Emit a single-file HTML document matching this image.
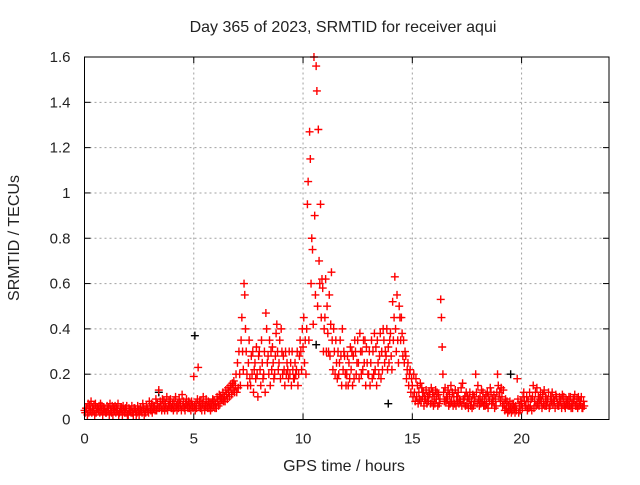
<!DOCTYPE html>
<html><head><meta charset="utf-8"><style>
body{margin:0;background:#fff}
svg text{font-family:"Liberation Sans",sans-serif;font-size:15px;fill:#222}
svg text.big{font-size:16px}
</style></head><body>
<svg id="chart" width="640" height="480" xmlns="http://www.w3.org/2000/svg">
<text class="big" x="343" y="32" text-anchor="middle">Day 365 of 2023, SRMTID for receiver aqui</text>
<text class="big" x="344" y="471" text-anchor="middle">GPS time / hours</text>
<text class="big" x="0" y="0" text-anchor="middle" transform="translate(19,238) rotate(-90)">SRMTID / TECUs</text>
<g id="grid"></g><g id="marks"></g><g id="axes"></g>
</svg>
<script>
const xTicks=[0,5,10,15,20];
const yTicks=[0,0.2,0.4,0.6,0.8,1,1.2,1.4,1.6];
const yTickLabels=["0","0.2","0.4","0.6","0.8","1","1.2","1.4","1.6"];
const binStart=0, binStep=0.1;
const redBins=[
[.04,.03,.05],[.05,.02,.07],[.03,.06,.04],[.08,.03,.05],[.04,.06,.02],[.07,.03,.05],[.05,.04,.06],[.03,.07,.04],[.06,.02,.05],[.04,.05,.03],
[.03,.06,.04],[.05,.02,.07],[.04,.03,.06],[.02,.05,.04],[.06,.03,.05],[.04,.07,.02],[.03,.05,.04],[.05,.02,.06],[.04,.03,.05],[.03,.06,.02],
[.02,.05,.04],[.04,.03,.06],[.03,.02,.05],[.05,.04,.02],[.03,.06,.04],[.02,.04,.05],[.04,.03,.07],[.05,.02,.04],[.03,.06,.05],[.04,.03,.08],
[.05,.04,.07],[.03,.06,.05],[.06,.04,.09],[.04,.07,.05],[.13,.05,.08],[.06,.04,.09],[.05,.08,.04],[.07,.05,.1],[.04,.06,.08],[.06,.09,.05],
[.05,.07,.04],[.08,.05,.1],[.06,.04,.07],[.05,.09,.06],[.07,.04,.11],[.06,.08,.05],[.04,.07,.09],[.06,.05,.08],[.05,.07,.04],[.08,.06,.05],
[.19,.06,.04],[.07,.05,.09],[.23,.06,.08],[.05,.08,.04],[.07,.1,.06],[.04,.06,.09],[.06,.05,.08],[.05,.07,.04],[.07,.05,.09],[.06,.08,.05],
[.07,.05,.1],[.08,.06,.11],[.07,.1,.09],[.09,.12,.08],[.1,.08,.13],[.11,.09,.14],[.12,.1,.15],[.14,.11,.16],[.13,.17,.12],[.15,.2,.12],
[.25,.14,.3],[.2,.15,.35],[.45,.3,.22],[.6,.55,.4],[.3,.2,.15],[.25,.35,.18],[.15,.28,.2],[.3,.12,.22],[.25,.18,.32],[.2,.1,.28],
[.3,.22,.15],[.35,.25,.18],[.2,.3,.12],[.47,.4,.25],[.28,.2,.35],[.15,.3,.22],[.32,.25,.18],[.2,.28,.38],[.42,.3,.22],[.25,.35,.18],
[.4,.3,.2],[.28,.22,.15],[.3,.2,.25],[.22,.18,.3],[.2,.25,.15],[.3,.22,.18],[.18,.25,.2],[.22,.3,.15],[.2,.28,.35],[.3,.22,.4],
[.32,.45,.25],[.35,.2,.4],[.95,1.05,.35],[1.27,1.15,.6],[.8,.75,.42],[1.6,.9,.55],[1.56,1.45,.5],[1.28,.7,.6],[.95,.45,.62],[.58,.3,.4],
[.45,.62,.3],[.5,.38,.3],[.55,.28,.42],[.65,.35,.22],[.4,.3,.2],[.35,.25,.18],[.3,.2,.25],[.35,.28,.15],[.4,.22,.3],[.28,.2,.15],
[.2,.28,.15],[.25,.18,.32],[.22,.3,.15],[.28,.18,.35],[.3,.2,.25],[.35,.25,.18],[.38,.3,.2],[.3,.22,.35],[.25,.35,.15],[.32,.25,.2],
[.2,.3,.15],[.25,.35,.18],[.3,.2,.38],[.22,.32,.15],[.35,.25,.2],[.28,.38,.18],[.3,.22,.4],[.35,.25,.3],[.28,.4,.22],[.32,.25,.35],
[.38,.28,.22],[.52,.35,.45],[.63,.4,.3],[.55,.35,.25],[.5,.45,.35],[.45,.38,.28],[.35,.25,.3],[.28,.18,.22],[.25,.15,.2],[.22,.12,.18],
[.15,.1,.2],[.12,.08,.18],[.1,.15,.07],[.12,.09,.16],[.08,.14,.1],[.12,.06,.1],[.09,.13,.07],[.1,.08,.12],[.11,.07,.14],[.08,.12,.06],
[.1,.07,.13],[.09,.12,.06],[.11,.07,.09],[.53,.45,.32],[.2,.12,.08],[.14,.08,.1],[.09,.13,.06],[.11,.07,.15],[.08,.12,.06],[.1,.07,.13],
[.06,.1,.08],[.12,.07,.09],[.08,.14,.06],[.16,.09,.07],[.1,.06,.12],[.07,.1,.05],[.09,.12,.06],[.08,.05,.11],[.06,.1,.08],[.2,.12,.07],
[.15,.09,.06],[.1,.07,.13],[.08,.12,.06],[.09,.06,.11],[.07,.12,.05],[.1,.08,.14],[.12,.07,.09],[.08,.11,.05],[.09,.06,.12],[.2,.15,.1],
[.12,.08,.14],[.1,.06,.13],[.07,.04,.09],[.05,.08,.03],[.06,.04,.08],[.05,.03,.07],[.04,.07,.05],[.03,.06,.04],[.18,.09,.03],[.06,.04,.08],
[.07,.05,.1],[.12,.08,.06],[.06,.1,.04],[.08,.05,.12],[.06,.09,.04],[.1,.15,.05],[.08,.12,.06],[.14,.07,.1],[.06,.09,.12],[.08,.05,.11],
[.07,.13,.06],[.1,.06,.09],[.08,.12,.05],[.06,.1,.08],[.12,.07,.09],[.08,.05,.11],[.1,.07,.06],[.06,.1,.08],[.09,.05,.11],[.07,.1,.06],
[.05,.09,.07],[.08,.06,.1],[.06,.1,.05],[.07,.05,.09],[.08,.11,.06],[.06,.09,.05],[.1,.06,.08],[.07,.1,.05],[.05,.08,.06]
];
const blackTimes=[5.05,10.6,13.9,19.5,3.4];
const blackValues=[0.37,0.33,0.07,0.2,0.12];
const X0=84.5,X1=609,Y0=419.5,Y1=57,XMAX=24,YMAX=1.6;
const xs=v=>X0+(X1-X0)*v/XMAX;
const ys=v=>Y0-(Y0-Y1)*v/YMAX;
const NS="http://www.w3.org/2000/svg";
function mk(tag,attrs,parent){const e=document.createElementNS(NS,tag);for(const k in attrs)e.setAttribute(k,attrs[k]);parent.appendChild(e);return e;}
const grid=document.getElementById('grid'),marks=document.getElementById('marks'),axes=document.getElementById('axes');
xTicks.forEach((t,i)=>{const x=xs(t);
 if(t>0){const g=mk('line',{x1:x,x2:x,y1:Y0,y2:Y1,stroke:'#a0a0a0','stroke-dasharray':'2,3'},grid);
 
 }
 mk('line',{x1:x,x2:x,y1:Y0,y2:Y0-6,stroke:'#000'},axes);
 mk('line',{x1:x,x2:x,y1:Y1,y2:Y1+6,stroke:'#000'},axes);
 const tx=mk('text',{x:x,y:Y0+24,'text-anchor':'middle'},axes);tx.textContent=String(t);
 
 
});
yTicks.forEach((t,i)=>{const y=ys(t);
 if(t>0&&t<YMAX){const g=mk('line',{x1:X0,x2:X1,y1:y,y2:y,stroke:'#a0a0a0','stroke-dasharray':'2,3'},grid);
 
 }
 mk('line',{x1:X0,x2:X0+6,y1:y,y2:y,stroke:'#000'},axes);
 mk('line',{x1:X1,x2:X1-6,y1:y,y2:y,stroke:'#000'},axes);
 const tx=mk('text',{x:X0-14,y:y+5,'text-anchor':'end'},axes);tx.textContent=yTickLabels[i];
 
 
});
const fr=mk('rect',{x:X0,y:Y1,width:X1-X0,height:Y0-Y1,fill:'none',stroke:'#000'},axes);


function plus(x,y,c,name){const p=mk('path',{d:`M${x-4},${y}h8M${x},${y-4}v8`,stroke:c,'stroke-width':1.4,fill:'none'},marks);
 
 }
blackTimes.forEach((t,i)=>plus(xs(t),ys(blackValues[i]),'#000','black-point'));
redBins.forEach((vals,b)=>{vals.forEach((v,j)=>{
 const t=binStart+binStep*(b+j/vals.length);
 plus(xs(t),ys(v),'#ff0000','red-point');
});});
</script>
</body></html>
